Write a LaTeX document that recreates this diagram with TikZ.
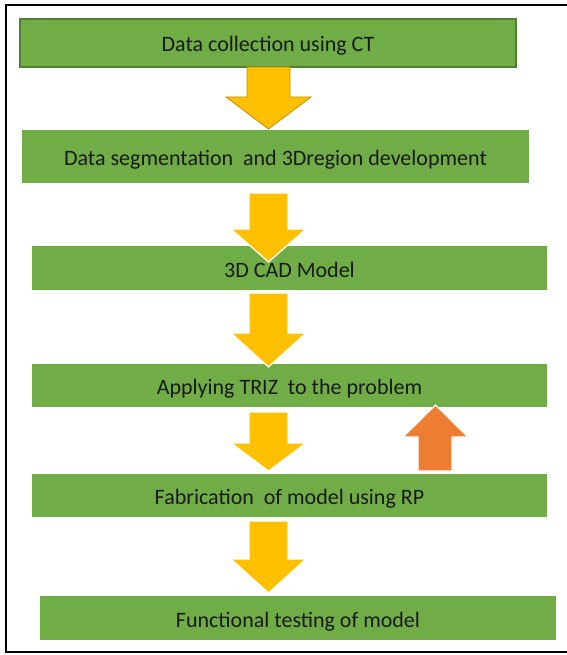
\documentclass[tikz,border=0pt]{standalone}
\usepackage{fontspec}
\setmainfont{Carlito}
\definecolor{boxgreen}{HTML}{70AD47}
\definecolor{boxedge}{HTML}{507E32}
\definecolor{arryellow}{HTML}{FFC000}
\definecolor{arredge}{HTML}{BF9000}
\definecolor{arrorange}{HTML}{ED7D31}
\definecolor{txt}{HTML}{1A1A1A}
\begin{document}
\begin{tikzpicture}[x=1pt,y=-1pt,
  stepbox/.style={fill=boxgreen, draw=none, inner sep=0pt, text=txt,
    text height=18pt, text depth=0pt,
    font=\fontsize{22}{26}\selectfont},
  blockarrow/.style={fill=arryellow, draw=white, line width=1.2pt, line join=miter},
  backarrow/.style={fill=arrorange, draw=white, line width=1.2pt, line join=miter}]
\useasboundingbox (0,0) rectangle (566,655);
\draw[line width=2pt] (568,5) -- (6,5) -- (6,652) -- (568,652);

\node[stepbox, draw=boxedge, line width=1.2pt, minimum width=496pt, minimum height=48pt] (b1) at (268,43) {Data collection using CT};
\node[stepbox, minimum width=507pt, minimum height=53pt] (b2) at (275.5,156.5) {Data segmentation\ \ and 3Dregion development};
\node[stepbox, minimum width=515pt, minimum height=44pt] (b3) at (289.5,268) {3D CAD Model};
\node[stepbox, minimum width=515pt, minimum height=43pt] (b4) at (289.5,385.5) {Applying TRIZ\ \ to the problem};
\node[stepbox, minimum width=515pt, minimum height=43pt] (b5) at (289.5,495.5) {Fabrication\ \ of model using RP};
\node[stepbox, minimum width=516pt, minimum height=44pt] (b6) at (298,618) {Functional testing of model};

% yellow block arrows
\filldraw[blockarrow, draw=arredge, line width=0.8pt] (247,67) -- (247,97) -- (226,97) -- (268.5,129) -- (311,97) -- (290,97) -- (290,67) -- cycle;
\filldraw[blockarrow] (249,193) -- (249,229) -- (231,229) -- (268.5,262) -- (306,229) -- (288,229) -- (288,193) -- cycle;
\filldraw[blockarrow] (249,293) -- (249,333) -- (231,333) -- (268.5,367) -- (306,333) -- (288,333) -- (288,293) -- cycle;
\filldraw[blockarrow] (249,412) -- (249,443) -- (231,443) -- (268.5,471) -- (306,443) -- (288,443) -- (288,412) -- cycle;
\filldraw[blockarrow] (249,521) -- (249,559) -- (231,559) -- (268.5,593) -- (306,559) -- (288,559) -- (288,521) -- cycle;
% orange feedback arrow
\filldraw[backarrow] (418,471) -- (418,437) -- (403,437) -- (435.5,405) -- (468,437) -- (452,437) -- (452,471) -- cycle;
\end{tikzpicture}
\end{document}
